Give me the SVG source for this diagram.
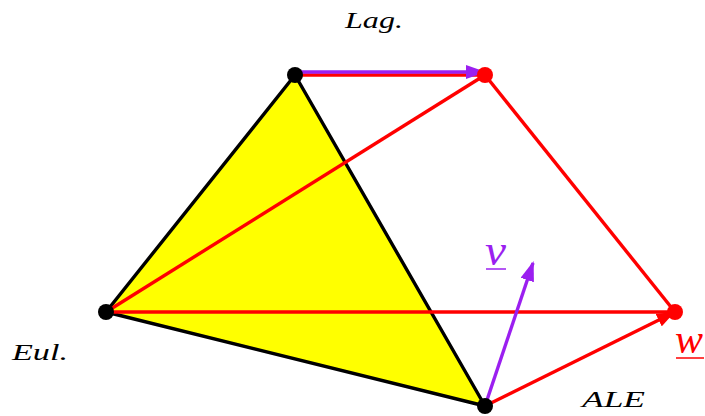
<svg xmlns="http://www.w3.org/2000/svg" width="705" height="416" viewBox="0 0 705 416">
<style>
.lbl{font-family:"Liberation Serif",serif;font-style:italic;font-weight:normal;font-size:24px}
.red{stroke:#ff0000;stroke-width:3.4;fill:none}
.pur{stroke:#9b1ff0;stroke-width:3.4;fill:none}
</style>
<defs>
<marker id="ahR" markerWidth="18" markerHeight="14" refX="16" refY="7" orient="auto" markerUnits="userSpaceOnUse" viewBox="0 0 18 14"><path d="M0,0 L18,7 L0,14 Z" fill="#ff0000"/></marker>
<marker id="ahP" markerWidth="20" markerHeight="14" refX="18" refY="7" orient="auto" markerUnits="userSpaceOnUse" viewBox="0 0 20 14"><path d="M0,0 L20,7 L0,14 Z" fill="#9b1ff0"/></marker>
</defs>
<rect width="705" height="416" fill="#ffffff"/>
<g id="triangle">
<polygon points="295,75 106,312 485,406" fill="#ffff00" stroke="#000" stroke-width="3.4" stroke-linejoin="round"/>
</g>
<g id="connectors">
<line class="red" x1="295" y1="75" x2="485" y2="75"/>
<line class="red" x1="106" y1="312" x2="485" y2="75"/>
<line class="red" x1="106" y1="312" x2="675" y2="312"/>
<line class="red" x1="485" y1="75" x2="675" y2="312"/>
<line class="red" x1="485" y1="406" x2="673" y2="313" marker-end="url(#ahR)"/>
<line class="pur" x1="295" y1="72" x2="484" y2="72" marker-end="url(#ahP)"/>
<line class="pur" x1="485" y1="406" x2="533" y2="263" marker-end="url(#ahP)"/>
</g>
<g id="n-lag"><circle cx="295" cy="75" r="8" fill="#000"/></g>
<g id="n-eul"><circle cx="106" cy="312" r="8" fill="#000"/></g>
<g id="n-ale"><circle cx="485" cy="406" r="8" fill="#000"/></g>
<g id="n-lag2"><circle cx="485" cy="75" r="8" fill="#ff0000"/></g>
<g id="n-w"><circle cx="675" cy="312" r="8" fill="#ff0000"/></g>
<g id="labels">
<text class="lbl" x="345" y="28" textLength="58" lengthAdjust="spacingAndGlyphs">Lag.</text>
<text class="lbl" x="12" y="360" textLength="56" lengthAdjust="spacingAndGlyphs">Eul.</text>
<text class="lbl" x="582" y="407" textLength="63" lengthAdjust="spacingAndGlyphs">ALE</text>
<text class="lbl" x="485" y="265" fill="#9b1ff0" style="font-size:44px" textLength="21" lengthAdjust="spacingAndGlyphs">v</text>
<line x1="486" y1="269" x2="506" y2="269" stroke="#9b1ff0" stroke-width="1.5"/>
<text class="lbl" x="675" y="353" fill="#ff0000" style="font-size:42px" textLength="28" lengthAdjust="spacingAndGlyphs">w</text>
<line x1="676" y1="358" x2="704" y2="358" stroke="#ff0000" stroke-width="1.5"/>
</g>
</svg>
